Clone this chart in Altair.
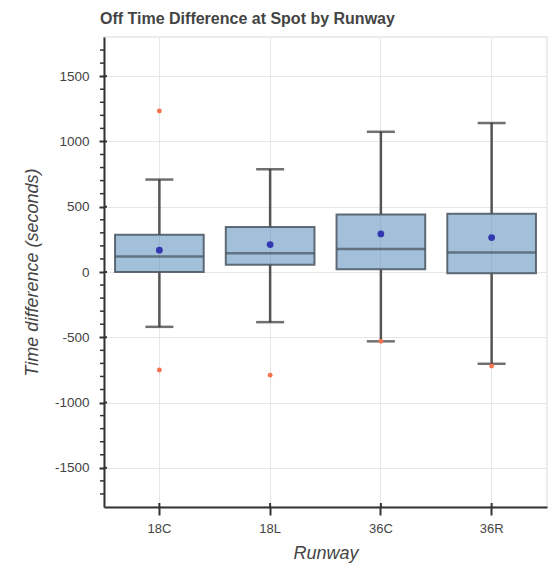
import altair as alt
import pandas as pd

runways = ["18C", "18L", "36C", "36R"]
lower_whisker = [-420, -384, -531, -703]
q1 = [0, 56, 21, -10]
median = [118, 144, 177, 149]
q3 = [285, 344, 441, 446]
upper_whisker = [708, 787, 1074, 1141]
mean = [167, 210, 292, 264]

outlier_runway = ["18C", "18C", "18L", "36C", "36R"]
outlier_value = [1233, -751, -790, -531, -720]

major_ticks = [-1500, -1000, -500, 0, 500, 1000, 1500]
minor_ticks = [v for v in range(-1700, 1800, 100) if v % 500 != 0]

FONT = "Liberation Sans"
W, H = 443, 470

stats = pd.DataFrame({
    "runway": runways, "lower": lower_whisker, "q1": q1, "median": median,
    "q3": q3, "upper": upper_whisker, "mean": mean,
})
outl = pd.DataFrame({"runway": outlier_runway, "value": outlier_value})
minor_df = pd.DataFrame({"v": minor_ticks})
major_df = pd.DataFrame({"v": major_ticks})

yscale = alt.Scale(domain=[-1800, 1800], nice=False, zero=False)
xscale = alt.Scale(domain=runways, paddingInner=0, paddingOuter=0)

x_enc = alt.X("runway:N", scale=xscale, sort=runways,
              axis=alt.Axis(title="Runway", labelAngle=0, tickSize=8, tickWidth=2,
                            tickColor="#333", domainColor="#333", domainWidth=2,
                            labelPadding=7, labelFontSize=13, labelColor="#444",
                            labelFont=FONT, titleFont=FONT, titleFontSize=18,
                            titleFontStyle="italic", titleFontWeight="normal",
                            titleColor="#444", titleY=46, titleBaseline="middle",
                            gridColor="#e6e6e6", gridWidth=1))

base = alt.Chart(stats)

box = base.mark_bar(size=88.7, fill="#4682b4", fillOpacity=0.5,
                    stroke="#4a5560", strokeOpacity=0.85, strokeWidth=2).encode(
    x=x_enc,
    y=alt.Y("q1:Q", scale=yscale,
            axis=alt.Axis(title="Time difference (seconds)", values=major_ticks,
                          labelExpr="'' + datum.value",
                          tickSize=5, tickWidth=2, tickColor="#333",
                          domainColor="#333", domainWidth=2, labelPadding=10,
                          labelFontSize=13.5, labelColor="#444", labelFont=FONT,
                          titleFont=FONT, titleFontSize=18, titleFontStyle="italic",
                          titleFontWeight="normal", titleColor="#444",
                          titleX=-72, titleBaseline="middle", titleAlign="center",
                          titleAngle=-90, gridColor="#e6e6e6", gridWidth=1)),
    y2="q3:Q",
)

whisk_up = base.mark_rule(color="#555", strokeWidth=2.5).encode(
    x=alt.X("runway:N", scale=xscale, sort=runways), y=alt.Y("q3:Q", scale=yscale), y2="upper:Q")
whisk_lo = base.mark_rule(color="#555", strokeWidth=2.5).encode(
    x=alt.X("runway:N", scale=xscale, sort=runways), y=alt.Y("lower:Q", scale=yscale), y2="q1:Q")

cap_up = base.mark_tick(size=28, thickness=2.5, color="#333").encode(
    x=alt.X("runway:N", scale=xscale, sort=runways), y=alt.Y("upper:Q", scale=yscale))
cap_lo = base.mark_tick(size=28, thickness=2.5, color="#333").encode(
    x=alt.X("runway:N", scale=xscale, sort=runways), y=alt.Y("lower:Q", scale=yscale))

med = base.mark_tick(size=88.7, thickness=2.5, color="#46525c").encode(
    x=alt.X("runway:N", scale=xscale, sort=runways), y=alt.Y("median:Q", scale=yscale))

mean_pts = base.mark_point(filled=True, size=46, color="#3438b0", opacity=1).encode(
    x=alt.X("runway:N", scale=xscale, sort=runways), y=alt.Y("mean:Q", scale=yscale))

out_pts = alt.Chart(outl).mark_point(filled=True, size=24, color="#f6734f", opacity=1).encode(
    x=alt.X("runway:N", scale=xscale, sort=runways), y=alt.Y("value:Q", scale=yscale))

minor = alt.Chart(minor_df).mark_rule(color="#333", strokeWidth=1.5).encode(
    y=alt.Y("v:Q", scale=yscale), x=alt.value(-4), x2=alt.value(0))
major_in = alt.Chart(major_df).mark_rule(color="#333", strokeWidth=2).encode(
    y=alt.Y("v:Q", scale=yscale), x=alt.value(0), x2=alt.value(3))
x_in = base.mark_rule(color="#333", strokeWidth=2).encode(
    x=alt.X("runway:N", scale=xscale, sort=runways), y=alt.value(H - 4), y2=alt.value(H))

chart = alt.layer(
    box, whisk_up, whisk_lo, cap_up, cap_lo, med, mean_pts, out_pts,
    minor, major_in, x_in,
).properties(
    width=W, height=H,
    autosize=alt.AutoSizeParams(type="none"),
    padding={"left": 104, "top": 37, "right": 2, "bottom": 58},
    title=alt.Title("Off Time Difference at Spot by Runway", anchor="start",
                    font=FONT, fontSize=16, fontWeight="bold", color="#444",
                    baseline="alphabetic", offset=14, dx=77, dy=17),
).configure_view(
    stroke="#e6e6e6", strokeWidth=1.5
).configure_axis(grid=True)

chart.save("out.html", embed_options={"renderer": "svg", "actions": False})
